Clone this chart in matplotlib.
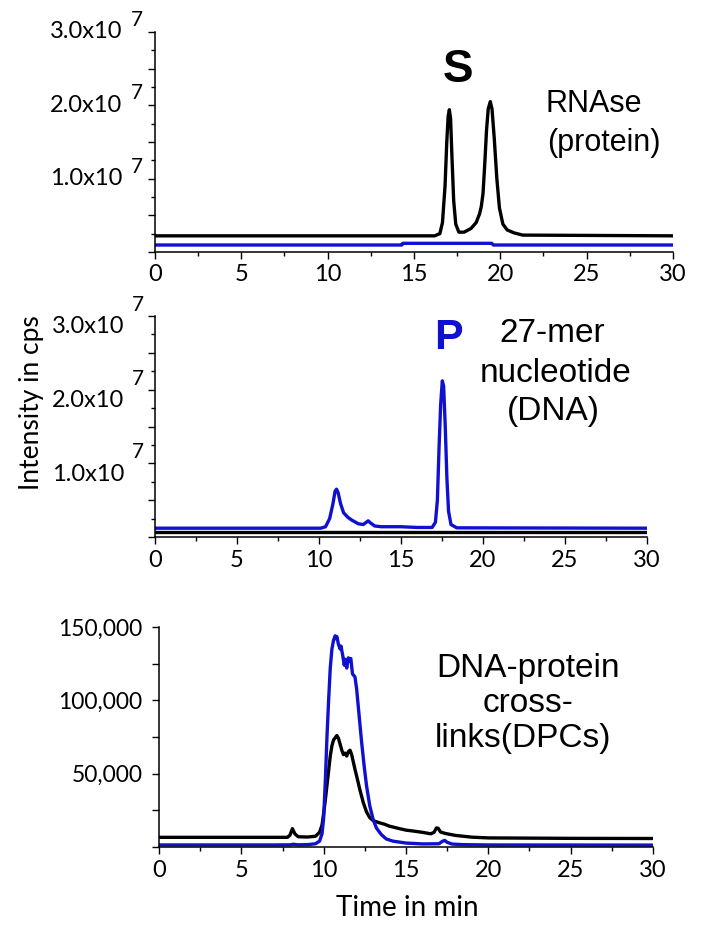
import matplotlib
matplotlib.use("Agg")
import matplotlib.pyplot as plt
from matplotlib.ticker import MultipleLocator, FuncFormatter

# ---------------- data ----------------
# Panel 1: RNAse (protein), values in units of 1e7 cps
p1_black_t = [0, 16.2, 16.5, 16.65, 16.8, 16.9, 16.98, 17.05, 17.12, 17.2, 17.3, 17.42, 17.6,
              17.9, 18.3, 18.6, 18.8, 18.9, 19.0, 19.1, 19.2, 19.3, 19.42, 19.52, 19.65, 19.8,
              19.95, 20.15, 20.4, 20.8, 21.3, 30]
p1_black_v = [0.22, 0.22, 0.25, 0.4, 0.9, 1.5, 1.85, 1.94, 1.82, 1.3, 0.7, 0.38, 0.27,
              0.27, 0.32, 0.4, 0.52, 0.62, 0.8, 1.2, 1.65, 1.95, 2.05, 1.95, 1.55, 1.0,
              0.6, 0.38, 0.3, 0.26, 0.23, 0.22]
p1_blue_t = [0, 14.3, 14.35, 19.5, 19.6, 30]
p1_blue_v = [0.095, 0.095, 0.118, 0.118, 0.095, 0.095]

# Panel 2: 27-mer nucleotide (DNA), units of 1e7 cps
p2_blue_t = [0, 10.1, 10.4, 10.65, 10.85, 10.98, 11.07, 11.17, 11.32, 11.5, 11.75, 12.0,
             12.4, 12.7, 12.88, 13.0, 13.15, 13.4, 13.8, 15.0, 16.0, 16.9, 17.1, 17.22,
             17.32, 17.42, 17.52, 17.6, 17.7, 17.8, 17.9, 18.05, 18.4, 30]
p2_blue_v = [0.12, 0.12, 0.14, 0.25, 0.45, 0.62, 0.65, 0.6, 0.45, 0.33, 0.27, 0.23,
             0.18, 0.17, 0.2, 0.22, 0.19, 0.15, 0.14, 0.14, 0.13, 0.13, 0.2, 0.5,
             1.2, 1.8, 2.12, 2.05, 1.5, 0.8, 0.35, 0.17, 0.125, 0.12]
p2_black_t = [0, 30]
p2_black_v = [0.068, 0.068]

# Panel 3: DNA-protein cross-links (DPCs), cps
p3_blue_t = [0, 7.0, 8.0, 8.15, 8.4, 9.0, 9.5, 9.75, 9.9, 10.0, 10.1, 10.2, 10.3, 10.4,
             10.5, 10.6, 10.7, 10.75, 10.8, 10.9, 11.0, 11.05, 11.15, 11.25, 11.3, 11.4,
             11.5, 11.55, 11.65, 11.75, 11.9, 12.0, 12.1, 12.3, 12.45, 12.6, 12.8, 13.0,
             13.2, 13.5, 13.8, 14.2, 15.0, 16.0, 17.0, 17.2, 17.35, 17.5, 17.8, 18.5, 20, 30]
p3_blue_v = [1400, 1400, 1500, 1900, 1500, 1600, 2200, 4000, 9000, 20000, 45000, 75000,
             100000, 122000, 135000, 141000, 144000, 142000, 143500, 138000, 135000, 137000,
             131000, 124000, 128000, 122000, 129000, 127000, 128500, 118000, 116000, 108000,
             96000, 72000, 56000, 42000, 28000, 19000, 13000, 8500, 5500, 4000, 2700, 2100,
             2200, 3800, 4500, 3200, 2000, 1600, 1400, 1300]
p3_black_t = [0, 7.8, 7.95, 8.1, 8.25, 8.45, 9.0, 9.5, 9.75, 9.9, 10.0, 10.1, 10.2, 10.3,
              10.4, 10.5, 10.6, 10.7, 10.8, 10.9, 11.0, 11.1, 11.2, 11.3, 11.4, 11.5, 11.6,
              11.7, 11.8, 11.9, 12.0, 12.2, 12.4, 12.6, 12.8, 13.0, 13.3, 13.7, 14.0, 14.5,
              15.0, 15.5, 16.0, 16.5, 16.7, 16.85, 16.95, 17.1, 17.4, 18.0, 19.0, 20.0, 25, 30]
p3_black_v = [6600, 6600, 8000, 12500, 9000, 7000, 6800, 7300, 10000, 15000, 23000, 32000,
              42000, 52000, 62000, 69000, 73000, 74500, 76000, 74000, 70000, 66000, 63000,
              64000, 62000, 65000, 66000, 63000, 58000, 53000, 48500, 39000, 30500, 24000,
              20000, 18000, 16800, 15500, 14200, 12800, 11500, 10800, 10000, 9000, 10000,
              13000, 12800, 10200, 9200, 7900, 6700, 6200, 5900, 5800]

sci_ticks = [1.0, 2.0, 3.0]
sci_labels = ["1.0x10", "2.0x10", "3.0x10"]
x_ticks = [0, 5, 10, 15, 20, 25, 30]

BLUE = "#1010d0"
BLACK = "#000000"
TICKFONT = ["Lato", "DejaVu Sans"]
ANNFONT = ["Liberation Sans", "DejaVu Sans"]
TICKSIZE = 17

fig = plt.figure(figsize=(7.08, 9.43), dpi=100)
ax1 = fig.add_axes([0.2189, 0.7328, 0.7316, 0.2333])
ax2 = fig.add_axes([0.2189, 0.4305, 0.6949, 0.2344])
ax3 = fig.add_axes([0.2246, 0.1018, 0.6977, 0.2333])

lw = 2.4


def style(ax):
    for s in ["top", "right"]:
        ax.spines[s].set_visible(False)
    for s in ["left", "bottom"]:
        ax.spines[s].set_linewidth(1.1)
    ax.set_xlim(0, 30)
    ax.xaxis.set_major_locator(MultipleLocator(5))
    ax.xaxis.set_minor_locator(MultipleLocator(2.5))
    ax.tick_params(axis="both", which="major", direction="out", length=5, width=1)
    ax.tick_params(axis="both", which="minor", direction="out", length=3, width=1)
    ax.tick_params(axis="x", which="major", pad=4)


# Panel 1
ax1.plot(p1_black_t, p1_black_v, color=BLACK, lw=lw)
ax1.plot(p1_blue_t, p1_blue_v, color=BLUE, lw=lw)
ax1.set_ylim(0, 3.0)
# Panel 2
ax2.plot(p2_black_t, p2_black_v, color=BLACK, lw=lw)
ax2.plot(p2_blue_t, p2_blue_v, color=BLUE, lw=lw)
ax2.set_ylim(0, 3.0)
# Panel 3
ax3.plot(p3_black_t, p3_black_v, color=BLACK, lw=lw)
ax3.plot(p3_blue_t, p3_blue_v, color=BLUE, lw=lw)
ax3.set_ylim(0, 150000)

for ax in (ax1, ax2, ax3):
    style(ax)
    ax.set_xticks(x_ticks)
    ax.set_xticklabels([str(t) for t in x_ticks], family=TICKFONT, fontsize=TICKSIZE)

for ax in (ax1, ax2):
    ax.yaxis.set_major_locator(MultipleLocator(0.5))
    ax.yaxis.set_minor_locator(MultipleLocator(0.25))
    ax.set_yticklabels([])

ax3.yaxis.set_major_locator(MultipleLocator(25000))
ax3.yaxis.set_major_formatter(FuncFormatter(lambda v, p: f"{int(v):,}" if v % 50000 == 0 and v > 0 else ""))
ax3.tick_params(axis="y", which="major", pad=7, labelsize=16.5)
for lab in ax3.get_yticklabels():
    lab.set_family(TICKFONT)

px = 0.72  # points per pixel at 100 dpi


def sci_label(ax, v, txt, lab_dx, lab_dy, sup_dx, sup_dy):
    ax.annotate(txt, xy=(0, v), xycoords=("axes fraction", "data"),
                xytext=(lab_dx * px, lab_dy * px), textcoords="offset points",
                ha="right", va="center", fontsize=TICKSIZE, family=TICKFONT, annotation_clip=False)
    ax.annotate("7", xy=(0, v), xycoords=("axes fraction", "data"),
                xytext=(sup_dx * px, sup_dy * px), textcoords="offset points",
                ha="center", va="center", fontsize=15, family=TICKFONT, annotation_clip=False)


for v, t in zip(sci_ticks, sci_labels):
    sci_label(ax1, v, t, -33, 0, -18, 12)
    sci_label(ax2, v, t, -31, -11, -17, 11)

# annotations
ax1.text(17.55, 2.48, "S", fontsize=33, fontweight="bold", family=ANNFONT,
         ha="center", va="center", color=BLACK)
ax1.text(25.4, 2.02, "RNAse", fontsize=22, family=ANNFONT, ha="center", va="center")
ax1.text(26.0, 1.48, "(protein)", fontsize=22, family=ANNFONT, ha="center", va="center")

ax2.text(17.9, 2.70, "P", fontsize=31, fontweight="bold", family=ANNFONT,
         ha="center", va="center", color=BLUE)
ax2.text(24.2, 2.76, "27-mer", fontsize=24, family=ANNFONT, ha="center", va="center")
ax2.text(24.4, 2.22, "nucleotide", fontsize=24, family=ANNFONT, ha="center", va="center")
ax2.text(24.3, 1.70, "(DNA)", fontsize=24, family=ANNFONT, ha="center", va="center")

ax3.text(22.4, 122000, "DNA-protein", fontsize=24, family=ANNFONT, ha="center", va="center")
ax3.text(22.4, 98000, "cross-", fontsize=24, family=ANNFONT, ha="center", va="center")
ax3.text(22.1, 74000, "links(DPCs)", fontsize=24, family=ANNFONT, ha="center", va="center")

fig.text(32 / 708, 1 - 403 / 943, "Intensity in cps", rotation=90, fontsize=19,
         family=TICKFONT, ha="center", va="center")
fig.text(407 / 708, 1 - 908 / 943, "Time in min", fontsize=20,
         family=TICKFONT, ha="center", va="center")

fig.savefig("out.png", dpi=100)
